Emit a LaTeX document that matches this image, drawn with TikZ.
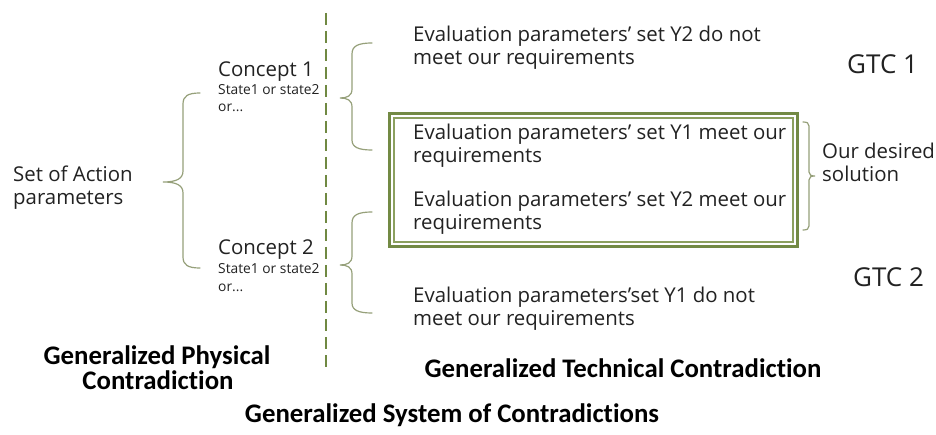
\documentclass[tikz,border=0pt]{standalone}
\usepackage{fontspec}
\newfontfamily\osf{Open Sans}
\newfontfamily\carl[Ligatures=NoCommon]{Carlito}
\definecolor{textcol}{HTML}{222222}
\definecolor{bracecol}{RGB}{150,160,122}
\definecolor{olivedark}{RGB}{115,138,68}
\definecolor{olivelight}{RGB}{140,160,95}
\definecolor{dashcol}{RGB}{112,137,66}
\tikzset{
  txt/.style={font=\osf\fontsize{20.4}{24}\selectfont, text=textcol, inner sep=0pt, anchor=base west},
  smalltxt/.style={font=\osf\fontsize{13.8}{16}\selectfont, text=textcol, inner sep=0pt, anchor=base west},
  gtctxt/.style={font=\osf\fontsize{26}{30}\selectfont, text=textcol, inner sep=0pt, anchor=base west},
  boldtxt/.style={font=\carl\bfseries\fontsize{26.8}{30}\selectfont, text=black, inner sep=0pt, anchor=base},
  bracestyle/.style={draw=bracecol, line width=1.2pt, line cap=round},
  dashline/.style={draw=dashcol, line width=2.6pt, dash pattern=on 12pt off 6pt},
}
\begin{document}
\begin{tikzpicture}[x=1pt,y=-1pt]
\useasboundingbox[fill=white] (0,0) rectangle (936,435);

% dashed divider
\coordinate (dtop) at (326,13);
\coordinate (dbot) at (326,368);
\draw[dashline] (dtop) -- (dbot);

% left texts
\node[txt] (set1) at (13,182) {Set of Action};
\node[txt] (set2) at (13,205) {parameters};

\node[txt] (c1) at (218,77) {Concept 1};
\node[smalltxt] (c1s1) at (218,95) {State1 or state2};
\node[smalltxt] (c1s2) at (218,112) {or...};

\node[txt] (c2) at (218,255) {Concept 2};
\node[smalltxt] (c2s1) at (218,274) {State1 or state2};
\node[smalltxt] (c2s2) at (218,291) {or...};

% left brace
\coordinate (lbtip) at (163,182);
\draw[bracestyle] (200,93) .. controls (188,93) and (183,96) .. (183,104) -- (183,171)
  .. controls (183,179) and (176,182) .. (lbtip)
  .. controls (176,182) and (183,185) .. (183,193) -- (183,257)
  .. controls (183,265) and (188,268) .. (200,268);

% right brace 1
\coordinate (rb1tip) at (340,98);
\draw[bracestyle] (372,43) .. controls (358,43) and (352,46) .. (352,54) -- (352,89)
  .. controls (352,96) and (347,98) .. (rb1tip)
  .. controls (347,98) and (352,100) .. (352,107) -- (352,140)
  .. controls (352,147) and (358,150) .. (372,150);

% right brace 2
\coordinate (rb2tip) at (340,265);
\draw[bracestyle] (372,212) .. controls (358,212) and (352,215) .. (352,223) -- (352,256)
  .. controls (352,263) and (347,265) .. (rb2tip)
  .. controls (347,265) and (352,267) .. (352,274) -- (352,303)
  .. controls (352,310) and (358,313) .. (372,313);

% box (double frame)
\node[draw=olivedark, line width=3.8pt, minimum width=408pt, minimum height=133pt, inner sep=0pt] (outerbox) at (593.5,180) {};
\node[draw=olivelight, line width=1.2pt, minimum width=399pt, minimum height=124pt, inner sep=0pt] (innerbox) at (593.5,180) {};

% evaluation texts
\node[txt] (e1a) at (413,42) {Evaluation parameters’ set Y2 do not};
\node[txt] (e1b) at (413,65) {meet our requirements};
\node[txt] (e2a) at (413,140) {Evaluation parameters’ set Y1 meet our};
\node[txt] (e2b) at (413,163) {requirements};
\node[txt] (e3a) at (413,207) {Evaluation parameters’ set Y2 meet our};
\node[txt] (e3b) at (413,230) {requirements};
\node[txt] (e4a) at (413,302) {Evaluation parameters’set Y1 do not};
\node[txt] (e4b) at (413,325) {meet our requirements};

% desired bracket
\coordinate (dbtip) at (815,176);
\draw[bracestyle] (803,122) .. controls (807,122) and (809,123) .. (809,126) -- (809,172)
  .. controls (809,175) and (811,176) .. (dbtip)
  .. controls (811,176) and (809,177) .. (809,180) -- (809,226)
  .. controls (809,229) and (807,230) .. (803,230);
\node[txt] (des1) at (822,159) {Our desired};
\node[txt] (des2) at (822,182) {solution};

% GTC labels
\node[gtctxt] (gtc1) at (847,74) {GTC 1};
\node[gtctxt] (gtc2) at (853,287) {GTC 2};

% bold captions
\node[boldtxt] (gpc1) at (157,364) {Generalized Physical};
\node[boldtxt] (gpc2) at (158,389) {Contradiction};
\node[boldtxt] (gtc) at (623,377) {Generalized Technical Contradiction};
\node[boldtxt] (gsc) at (452,422) {Generalized System of Contradictions};
\end{tikzpicture}
\end{document}
